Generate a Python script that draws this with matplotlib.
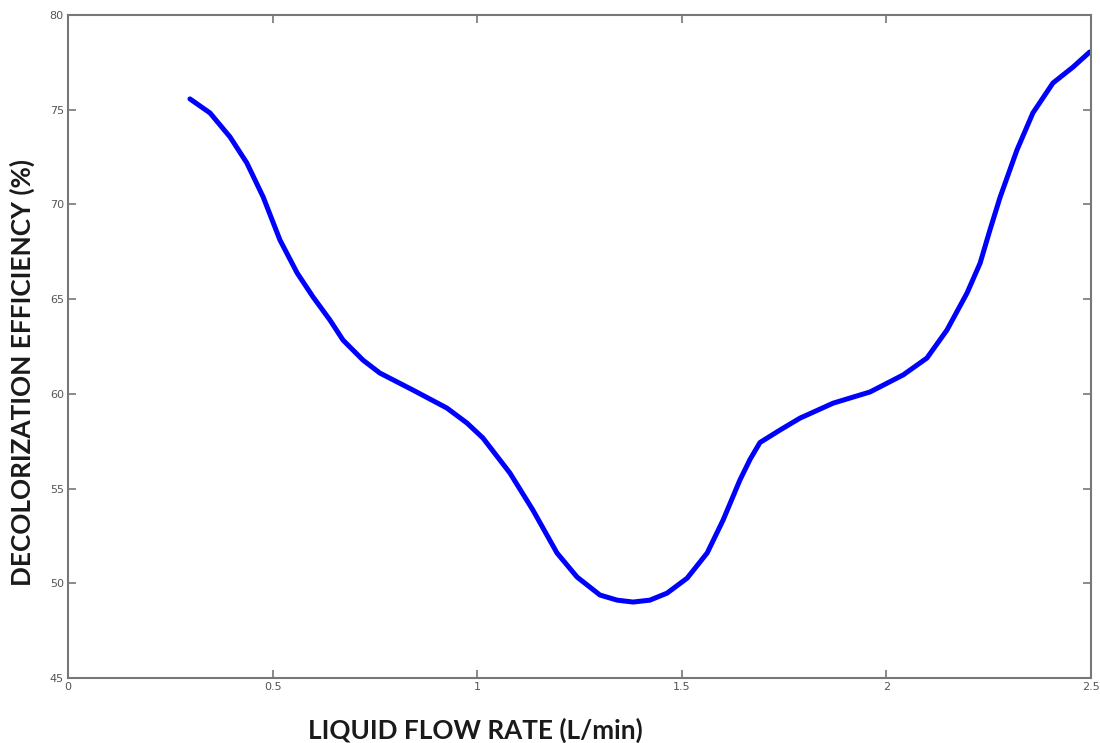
import matplotlib
matplotlib.use('Agg')
import numpy as np
import matplotlib.pyplot as plt

# liquid flow rate (L/min) and decolorization efficiency (%)
flowRate = [0.298, 0.347, 0.396, 0.437, 0.477, 0.518, 0.560, 0.599, 0.640, 0.672,
            0.721, 0.762, 0.843, 0.926, 0.975, 1.014, 1.080, 1.136, 1.195, 1.244,
            1.300, 1.342, 1.381, 1.422, 1.464, 1.513, 1.562, 1.601, 1.642, 1.667,
            1.691, 1.740, 1.789, 1.870, 1.960, 2.041, 2.099, 2.148, 2.197, 2.229,
            2.253, 2.278, 2.319, 2.358, 2.407, 2.456, 2.497]
efficiency = [75.57, 74.83, 73.56, 72.19, 70.39, 68.12, 66.38, 65.11, 63.90, 62.84,
              61.78, 61.10, 60.20, 59.25, 58.46, 57.67, 55.82, 53.87, 51.60, 50.33,
              49.38, 49.11, 49.01, 49.11, 49.48, 50.27, 51.60, 53.34, 55.45, 56.55,
              57.43, 58.09, 58.72, 59.51, 60.10, 61.00, 61.89, 63.37, 65.32, 66.90,
              68.65, 70.39, 72.87, 74.83, 76.41, 77.25, 78.05]

xTicks = [0, 0.5, 1, 1.5, 2, 2.5]
xTickLabels = ['0', '0.5', '1', '1.5', '2', '2.5']
yTicks = [45, 50, 55, 60, 65, 70, 75, 80]


def plotCurve(name):
    fig = plt.figure(figsize=(11, 7.43), dpi=100)
    ax = fig.add_axes([68 / 1100, 1 - 678 / 743, (1091 - 68) / 1100, (678 - 15) / 743])
    ax.plot(flowRate, efficiency, color='#0000ff', lw=3.6, solid_capstyle='round',
            solid_joinstyle='round')
    ax.set_xlim(0, 2.5)
    ax.set_ylim(45, 80)
    ax.set_xticks(xTicks)
    ax.set_xticklabels(xTickLabels)
    ax.set_yticks(yTicks)
    for spine in ax.spines.values():
        spine.set_color('#777777')
        spine.set_linewidth(1.5)
    ax.tick_params(direction='in', length=6, width=1.2, color='#777777',
                   labelsize=8, labelcolor='#555555', top=True, right=True, pad=3)
    fig.text(475 / 1100, 1 - 730 / 743, 'LIQUID FLOW RATE (L/min)', fontsize=18.8,
             fontweight='bold', family=['Lato', 'DejaVu Sans'], color='#1a1a1a',
             ha='center', va='center')
    fig.text(22 / 1100, 1 - 372 / 743, 'DECOLORIZATION EFFICIENCY (%)', fontsize=18.8,
             fontweight='bold', family=['Lato', 'DejaVu Sans'], color='#1a1a1a',
             ha='center', va='center', rotation=90)
    fig.savefig(name)


if __name__ == '__main__':
    plotCurve('out.png')
